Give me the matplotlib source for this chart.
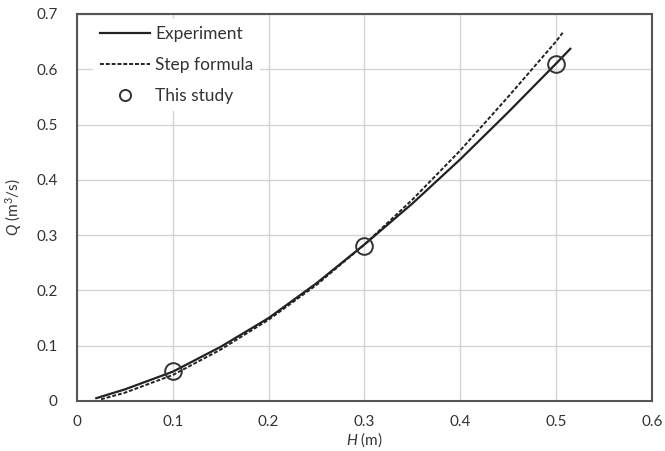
import matplotlib
matplotlib.use('Agg')
import matplotlib.pyplot as plt

plt.rcParams.update({
    'font.family': ['Lato', 'DejaVu Sans'], 'font.size': 11,
    'mathtext.fontset': 'custom', 'mathtext.rm': 'Lato', 'mathtext.it': 'Lato:italic',
})

# Experiment curve (solid)
h_exp = [0.02, 0.05, 0.10, 0.15, 0.20, 0.25, 0.30, 0.35, 0.40, 0.45, 0.50, 0.515]
q_exp = [0.005, 0.021, 0.053, 0.098, 0.150, 0.213, 0.283, 0.357, 0.437, 0.522, 0.610, 0.637]
# Step formula curve (dashed)
h_step = [0.025, 0.05, 0.10, 0.15, 0.20, 0.25, 0.30, 0.35, 0.40, 0.45, 0.50, 0.507]
q_step = [0.003, 0.015, 0.047, 0.093, 0.147, 0.210, 0.283, 0.364, 0.453, 0.550, 0.650, 0.666]
# This study (circles)
h_pts = [0.1, 0.3, 0.5]
q_pts = [0.055, 0.280, 0.610]

fig = plt.figure(figsize=(6.65, 4.51), dpi=100)
ax = fig.add_axes([0.116, 0.111, 0.864, 0.858])

ax.plot(h_exp, q_exp, color='#222222', lw=1.6, label='Experiment')
ax.plot(h_step, q_step, color='#222222', lw=1.4, ls=(0, (2, 1)), label='Step formula')
ax.plot(h_pts, q_pts, ls='none', marker='o', ms=12, mfc='none', mec='#333333', mew=1.4,
        label='This study')

ax.set_xlim(0, 0.6); ax.set_ylim(0, 0.7)
ax.set_xticks([0, 0.1, 0.2, 0.3, 0.4, 0.5, 0.6])
ax.set_xticklabels(['0', '0.1', '0.2', '0.3', '0.4', '0.5', '0.6'])
ax.set_yticks([0, 0.1, 0.2, 0.3, 0.4, 0.5, 0.6, 0.7])
ax.set_yticklabels(['0', '0.1', '0.2', '0.3', '0.4', '0.5', '0.6', '0.7'])
ax.tick_params(axis='x', length=0, pad=10, colors='#333333', labelsize=11)
ax.tick_params(axis='y', length=0, pad=14, colors='#333333', labelsize=11)
ax.grid(True, color='#d4d4d4', lw=1.0)
ax.set_axisbelow(True)
for s in ax.spines.values():
    s.set_color('#555555'); s.set_linewidth(1.5)

ax.set_xlabel(r'$H$ (m)', labelpad=1, color='#333333')
ax.set_ylabel(r'$Q$ (m$^3$/s)', labelpad=9, color='#333333')

leg = ax.legend(loc='upper left', bbox_to_anchor=(0.018, 1.0), frameon=True,
                handlelength=2.9, handletextpad=0.3, labelspacing=0.85,
                borderaxespad=0.3, fontsize=12.5)
leg.get_frame().set_edgecolor('none'); leg.get_frame().set_facecolor('white')
leg.get_frame().set_alpha(1)
for t in leg.get_texts():
    t.set_color('#333333')
leg.legend_handles[2].set_markersize(8)

fig.savefig('out.png', dpi=100)
